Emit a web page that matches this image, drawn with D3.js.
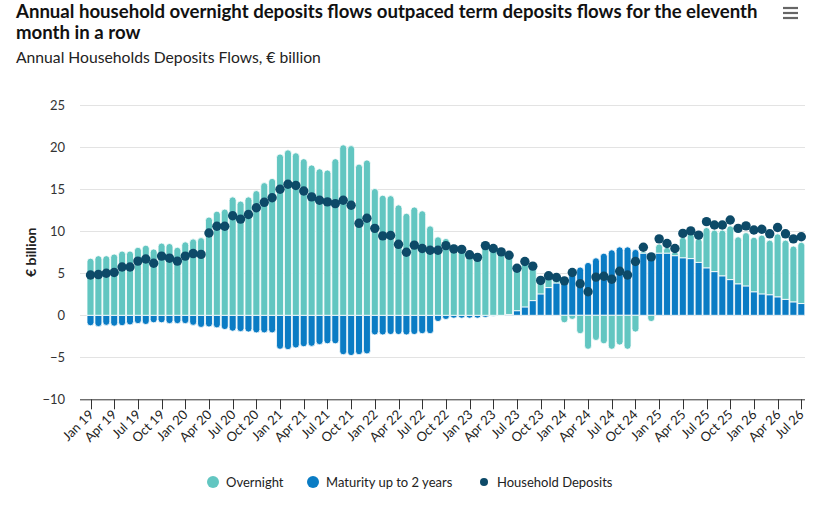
<!DOCTYPE html>
<html lang="en">
<head>
  <meta charset="UTF-8">
  <title>Annual Households Deposits Flows</title>
  <script src="https://d3js.org/d3.v7.min.js"></script>
  <style>
    body { margin: 0; padding: 0; background: #fff; font-family: Lato, "Open Sans", sans-serif; }
    svg { display: block; }
    .title { font-size: 18.6px; font-weight: bold; fill: #111; }
    .subtitle { font-size: 15.7px; fill: #222; }
    .tick text { font-size: 13px; fill: #333; }
    .legend text { font-size: 13px; fill: #222; }
  </style>
</head>
<body>
  <div id="chart"></div>

  <script>
    const width = 817;
    const height = 507;

    // monthly categories Jan 19 .. Jul 26
    const monthNames = ['Jan', 'Feb', 'Mar', 'Apr', 'May', 'Jun', 'Jul', 'Aug', 'Sep', 'Oct', 'Nov', 'Dec'];
    const categories = [];
    for (let y = 19; y <= 26; y++) {
      for (let m = 0; m < 12; m++) {
        if (y === 26 && m > 6) break;
        categories.push(monthNames[m] + ' ' + y);
      }
    }

    const overnight = [
      6.8, 7.1, 7.1, 7.3, 7.65, 7.65, 8.1, 8.35, 7.9, 8.6, 8.55, 8.1,
      8.75, 9.1, 9.25, 11.7, 12.4, 12.65, 14.1, 13.6, 14.1, 14.85, 15.8, 16.3,
      19.2, 19.7, 19.35, 18.65, 17.9, 17.45, 17.3, 18.65, 20.3, 20.2, 18.0, 18.5,
      15.1, 14.3, 14.25, 13.15, 12.15, 12.9, 12.45, 10.65, 9.35, 9.15, 8.45, 8.15,
      7.55, 7.15, 8.55, 8.3, 7.95, 7.45, 5.25, 5.3, 4.25, 1.85, 1.35, 0.55,
      -0.9, -0.5, -2.2, -4.05, -3.0, -3.4, -4.05, -3.55, -4.05, -2.0, 0.2, -0.75,
      1.1, 0.7, 0.5, 2.45, 3.0, 2.85, 4.8, 4.95, 5.45, 6.4, 5.6, 6.35,
      6.5, 7.0, 6.5, 7.5, 7.05, 6.65, 7.3
    ];

    const maturity = [
      -1.25, -1.35, -1.2, -1.3, -1.25, -1.15, -1.0, -1.1, -0.9, -0.9, -1.0, -1.0,
      -1.0, -1.2, -1.45, -1.4, -1.5, -1.7, -1.9, -1.95, -2.0, -2.1, -2.1, -2.1,
      -4.05, -4.1, -3.9, -3.75, -3.7, -3.5, -3.4, -3.4, -4.7, -4.8, -4.7, -4.6,
      -2.35, -2.35, -2.3, -2.3, -2.35, -2.3, -2.2, -2.2, -0.75, -0.5, -0.35, -0.35,
      -0.35, -0.35, -0.25, -0.1, -0.05, 0.1, 0.55, 1.0, 1.75, 2.55, 3.3, 3.85,
      4.6, 5.5, 5.75, 6.3, 6.85, 7.4, 7.8, 8.15, 8.15, 7.85, 7.4, 7.2,
      7.4, 7.4, 7.1, 6.85, 6.75, 6.3, 5.65, 5.2, 4.7, 4.25, 3.75, 3.5,
      2.8, 2.55, 2.45, 2.2, 1.9, 1.6, 1.4
    ];

    const household = [
      4.8, 4.85, 5.0, 5.1, 5.75, 5.75, 6.45, 6.7, 6.2, 7.05, 6.8, 6.45,
      7.05, 7.35, 7.25, 9.8, 10.6, 10.6, 11.85, 11.45, 12.0, 12.8, 13.45, 14.0,
      15.0, 15.6, 15.45, 14.8, 14.1, 13.7, 13.5, 13.3, 13.7, 13.1, 10.95, 11.55,
      10.35, 9.45, 9.5, 8.45, 7.5, 8.35, 7.95, 7.75, 7.75, 8.3, 7.9, 7.85,
      7.2, 6.9, 8.3, 7.95, 7.55, 7.15, 5.6, 6.4, 5.85, 4.15, 4.7, 4.5,
      4.1, 5.1, 3.75, 2.8, 4.55, 4.65, 4.3, 5.25, 4.8, 6.4, 8.1, 6.95,
      9.1, 8.55, 7.95, 9.75, 10.05, 9.55, 11.15, 10.75, 10.75, 11.35, 10.35, 10.65,
      10.15, 10.25, 9.7, 10.45, 9.7, 9.1, 9.35
    ];

    const yTicks = [-10, -5, 0, 5, 10, 15, 20, 25];
    const tickLabels = categories.filter((d, i) => i % 3 === 0);

    const colors = { overnight: '#62c6c1', maturity: '#0a7cc4', household: '#0d4a68' };

    const svg = d3.select('#chart').append('svg')
      .attr('width', width)
      .attr('height', height);

    // titles
    svg.append('text').attr('class', 'title').attr('x', 16).attr('y', 18)
      .text('Annual household overnight deposits flows outpaced term deposits flows for the eleventh');
    svg.append('text').attr('class', 'title').attr('x', 16).attr('y', 39)
      .text('month in a row');
    svg.append('text').attr('class', 'subtitle').attr('x', 16).attr('y', 63)
      .text('Annual Households Deposits Flows, € billion');

    // menu icon
    [8, 13, 18].forEach(yy => {
      svg.append('line').attr('x1', 783).attr('x2', 798).attr('y1', yy).attr('y2', yy)
        .attr('stroke', '#666').attr('stroke-width', 2.2);
    });

    const plotLeft = 80, plotRight = 805;
    const x = d3.scalePoint().domain(categories).range([90.5, 801.3]);
    const y = d3.scaleLinear().domain([-10, 25]).range([399.3, 105.3]);

    // grid
    svg.append('g')
      .selectAll('line')
      .data(yTicks.filter(t => t > -10))
      .join('line')
      .attr('x1', plotLeft).attr('x2', plotRight)
      .attr('y1', d => Math.round(y(d)) + 0.5).attr('y2', d => Math.round(y(d)) + 0.5)
      .attr('stroke', '#e3e3e3').attr('stroke-width', 1);

    // y axis labels
    const yAxis = d3.axisLeft(y).tickValues(yTicks).tickSize(0).tickPadding(0);
    svg.append('g')
      .attr('transform', 'translate(65,0)')
      .call(yAxis)
      .call(g => g.select('.domain').remove())
      .call(g => g.selectAll('text').attr('font-family', 'Lato, sans-serif'));

    svg.append('text')
      .attr('transform', 'translate(36,' + y(7.5) + ') rotate(-90)')
      .attr('text-anchor', 'middle')
      .attr('font-size', 14)
      .attr('font-weight', 'bold')
      .attr('fill', '#222')
      .text('€ billion');

    // bar path with rounded outer end
    const barW = 7;
    function barPath(cx, v0, v1, rounded) {
      const x0 = cx - barW / 2, x1 = cx + barW / 2;
      const p0 = y(v0), p1 = y(v1);
      const h = Math.abs(p1 - p0);
      const r = rounded ? Math.min(barW / 2, h) : 0;
      const dir = p1 < p0 ? -1 : 1; // -1 = upward
      if (r === 0) {
        return `M${x0},${p0}L${x0},${p1}L${x1},${p1}L${x1},${p0}Z`;
      }
      const e = p1 - dir * r;
      return `M${x0},${p0}L${x0},${e}` +
        `A${barW / 2},${r} 0 0 ${dir < 0 ? 1 : 0} ${x1},${e}` +
        `L${x1},${p0}Z`;
    }

    const segments = [];
    categories.forEach((c, i) => {
      const cx = x(c);
      const items = [
        { v: maturity[i], color: colors.maturity },
        { v: overnight[i], color: colors.overnight }
      ];
      let pos = 0, neg = 0;
      const placed = items.map(it => {
        if (it.v >= 0) {
          const s = { cx, v0: pos, v1: pos + it.v, color: it.color, sign: 1 };
          pos += it.v;
          return s;
        }
        const s = { cx, v0: neg, v1: neg + it.v, color: it.color, sign: -1 };
        neg += it.v;
        return s;
      });
      placed.forEach(s => {
        const sameSide = placed.filter(o => o.sign === s.sign);
        s.outer = sameSide[sameSide.length - 1] === s;
        if (s.v1 !== s.v0) segments.push(s);
      });
    });

    svg.append('g')
      .selectAll('path')
      .data(segments)
      .join('path')
      .attr('d', d => barPath(d.cx, d.v0, d.v1, d.outer))
      .attr('fill', d => d.color)
      .attr('stroke', '#fff')
      .attr('stroke-width', 0.8);

    // household dots
    svg.append('g')
      .selectAll('circle')
      .data(household)
      .join('circle')
      .attr('cx', (d, i) => x(categories[i]))
      .attr('cy', d => y(d))
      .attr('r', 4.7)
      .attr('fill', colors.household);

    // x axis
    const xAxisG = svg.append('g');
    xAxisG.append('line')
      .attr('x1', plotLeft).attr('x2', plotRight)
      .attr('y1', y(-10) + 0.5).attr('y2', y(-10) + 0.5)
      .attr('stroke', '#333').attr('stroke-width', 1);
    const tickG = xAxisG.selectAll('g.xt')
      .data(tickLabels)
      .join('g')
      .attr('class', 'xt')
      .attr('transform', d => `translate(${Math.round(x(d)) + 0.5},${y(-10)})`);
    tickG.append('line').attr('y1', 0).attr('y2', 10).attr('stroke', '#333');
    tickG.append('text')
      .attr('transform', 'translate(3,16) rotate(-45)')
      .attr('text-anchor', 'end')
      .attr('font-size', 13)
      .attr('fill', '#222')
      .text(d => d);

    // legend
    const legendItems = [
      { label: 'Overnight', color: colors.overnight, r: 6, x: 213 },
      { label: 'Maturity up to 2 years', color: colors.maturity, r: 6, x: 313 },
      { label: 'Household Deposits', color: colors.household, r: 4, x: 484 }
    ];
    const lg = svg.append('g').attr('class', 'legend')
      .selectAll('g')
      .data(legendItems)
      .join('g')
      .attr('transform', d => `translate(${d.x},482)`);
    lg.append('circle').attr('r', d => d.r).attr('fill', d => d.color);
    lg.append('text').attr('x', 13).attr('dy', '0.35em').text(d => d.label);
  </script>
</body>
</html>
